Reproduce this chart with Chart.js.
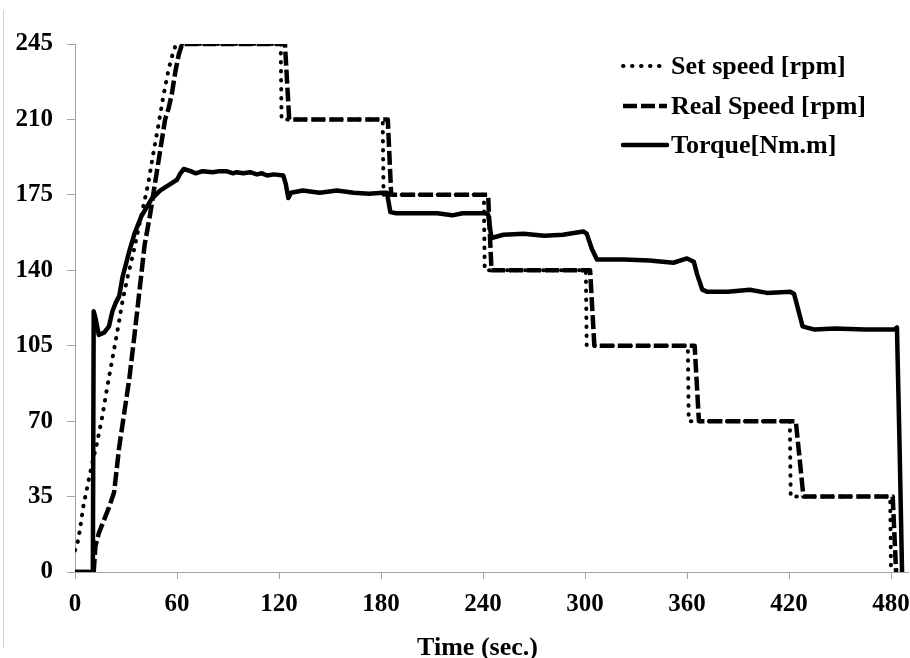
<!DOCTYPE html>
<html>
<head>
<meta charset="utf-8">
<title>Speed and torque</title>
<script src="https://cdn.jsdelivr.net/npm/chart.js@4.4.0/dist/chart.umd.min.js"></script>
<style>
  html, body { margin: 0; padding: 0; background: #fff; }
  #wrap { width: 910px; height: 658px; }
</style>
</head>
<body>
<div id="wrap"><canvas id="speedChart" width="910" height="658"></canvas></div>
<script>
// set speed (dotted)
const setTime  = [0, 2, 5, 10, 13, 16, 19, 22, 25, 28,
                  31, 34, 37, 40, 43, 46, 49, 52, 55, 57,
                  59, 60, 121, 121.5, 181, 181.5, 240.5, 241, 300.5, 301,
                  360.5, 361, 420.5, 421, 479.5, 480];
const setSpeed = [10, 15, 31, 50, 60, 72, 86, 99, 112, 126,
                  137, 147, 158, 169, 180, 194, 207, 221, 233, 239,
                  244, 245, 245, 210, 210, 175, 175, 140, 140, 105,
                  105, 70, 70, 35, 35, 0];

// real speed (dashed)
const realTime  = [0, 11, 12, 14, 17, 20, 23, 26, 29, 32,
                   35, 38, 41, 44, 47, 50, 53, 55, 57, 59,
                   61, 63, 123.5, 126, 184, 186, 243, 245, 303, 305.5,
                   364.5, 367, 424, 428.5, 481, 483];
const realSpeed = [0, 0, 12, 18, 24, 30, 37, 58, 74, 90,
                   110, 131, 152, 165, 180, 195, 210, 215, 222, 232,
                   240, 245, 245, 210, 210, 175, 175, 140, 140, 105,
                   105, 70, 70, 35, 35, 0];

// torque (solid)
const torqueTime = [0, 10.5, 11, 12, 14, 17, 20, 22, 24, 26,
                    28, 32, 35, 39, 45, 50, 56, 60, 62, 64,
                    68, 71, 75, 81, 85, 89, 93, 95, 99, 103,
                    107, 110, 113, 117, 122.5, 124, 125.5, 127, 134, 144,
                    154, 164, 173, 181, 183.5, 185.5, 189, 203, 213, 222,
                    228, 241, 243, 245, 252, 264, 276, 287, 299, 301,
                    304, 307, 323, 338, 352, 360, 364, 366, 369, 372,
                    384, 397, 407, 421, 423, 426, 428, 435, 447, 465,
                    482, 483.5, 485, 486.5];
const torqueVal  = [0, 0, 121, 118, 110, 111, 114, 121, 125, 128,
                    137, 149, 157, 165, 173, 177, 180, 182, 185, 187,
                    186, 185, 186, 185.5, 186, 186, 185, 185.5, 185, 185.5,
                    184.5, 185, 184, 184.5, 184, 180, 173.5, 176, 177, 176,
                    177, 176, 175.5, 176, 176, 167, 166.5, 166.5, 166.5, 165.5,
                    166.5, 166.5, 166, 155, 156.5, 157, 156, 156.5, 158, 157,
                    150, 145, 145, 144.5, 143.5, 145.5, 144, 138, 131, 130,
                    130, 131, 129.5, 130, 129, 120, 114, 112.5, 113, 112.5,
                    112.5, 113.5, 60, 0];

const seriesNames = ['Set speed [rpm]', 'Real Speed [rpm]', 'Torque[Nm.m]'];
const xTicks = [0, 60, 120, 180, 240, 300, 360, 420, 480];
const yTicks = [0, 35, 70, 105, 140, 175, 210, 245];
const xTitle = 'Time (sec.)';

const serif = '"Liberation Serif", "Times New Roman", serif';
const axisGray = '#a3a3a3';

function pts(xs, ys) {
  return xs.map((x, i) => ({ x: x, y: ys[i] }));
}

// legend inside the plot, frame line and x title
const decor = {
  id: 'decor',
  afterDraw(chart) {
    const ctx = chart.ctx;
    const area = chart.chartArea;
    ctx.save();
    // thin frame line at the left edge
    ctx.strokeStyle = '#cfcfcf';
    ctx.lineWidth = 1;
    ctx.beginPath();
    ctx.moveTo(3.5, 10);
    ctx.lineTo(3.5, 648);
    ctx.stroke();

    // x title
    ctx.fillStyle = '#000';
    ctx.font = 'bold 26px ' + serif;
    ctx.textAlign = 'center';
    ctx.textBaseline = 'alphabetic';
    ctx.fillText(xTitle, (area.left + area.right) / 2 - 14, 655);

    // legend
    const x0 = 623, x1 = 667;
    const rows = [66, 106, 145];
    chart.data.datasets.forEach((ds, i) => {
      const y = rows[i];
      ctx.strokeStyle = ds.borderColor;
      ctx.lineWidth = ds.borderWidth;
      ctx.lineCap = ds.borderCapStyle || 'butt';
      ctx.setLineDash(ds.borderDash || []);
      ctx.beginPath();
      ctx.moveTo(x0, y);
      ctx.lineTo(x1, y);
      ctx.stroke();
      ctx.setLineDash([]);
      ctx.textAlign = 'left';
      ctx.textBaseline = 'middle';
      ctx.font = 'bold 26px ' + serif;
      ctx.fillText(ds.label, x1 + 4, y + 1);
    });
    ctx.restore();
  }
};

const tickFont = { family: serif, size: 25, weight: 'bold' };

new Chart(document.getElementById('speedChart'), {
  type: 'line',
  data: {
    datasets: [{
      label: seriesNames[0],
      data: pts(setTime, setSpeed),
      borderColor: '#000',
      borderWidth: 4,
      borderDash: [0.5, 8.5],
      borderCapStyle: 'round'
    }, {
      label: seriesNames[1],
      data: pts(realTime, realSpeed),
      borderColor: '#000',
      borderWidth: 4.5,
      borderDash: [14, 4],
      borderCapStyle: 'butt'
    }, {
      label: seriesNames[2],
      data: pts(torqueTime, torqueVal),
      borderColor: '#000',
      borderWidth: 4.5,
      borderCapStyle: 'round'
    }]
  },
  options: {
    responsive: false,
    devicePixelRatio: 1,
    animation: false,
    parsing: false,
    layout: { padding: { top: 44, right: 2, left: 0, bottom: 0 } },
    elements: {
      point: { radius: 0 },
      line: { tension: 0, borderJoinStyle: 'round', fill: false }
    },
    plugins: {
      legend: { display: false },
      tooltip: { enabled: false }
    },
    scales: {
      x: {
        type: 'linear',
        min: 0,
        max: 490,
        afterBuildTicks: s => { s.ticks = xTicks.map(v => ({ value: v })); },
        afterFit: s => { s.height = 86; s.paddingLeft = 0; s.paddingRight = 0; },
        grid: { drawOnChartArea: false, tickLength: 7, color: axisGray },
        border: { color: axisGray, width: 1 },
        ticks: { padding: 11, color: '#000', font: tickFont, maxRotation: 0, autoSkip: false }
      },
      y: {
        min: 0,
        max: 245,
        afterBuildTicks: s => { s.ticks = yTicks.map(v => ({ value: v })); },
        afterFit: s => { s.width = 75; s.paddingTop = 0; s.paddingBottom = 0; },
        grid: { drawOnChartArea: false, tickLength: 8, color: axisGray },
        border: { color: axisGray, width: 1 },
        ticks: { padding: 14, color: '#000', font: tickFont, autoSkip: false }
      }
    }
  },
  plugins: [decor]
});
</script>
</body>
</html>
